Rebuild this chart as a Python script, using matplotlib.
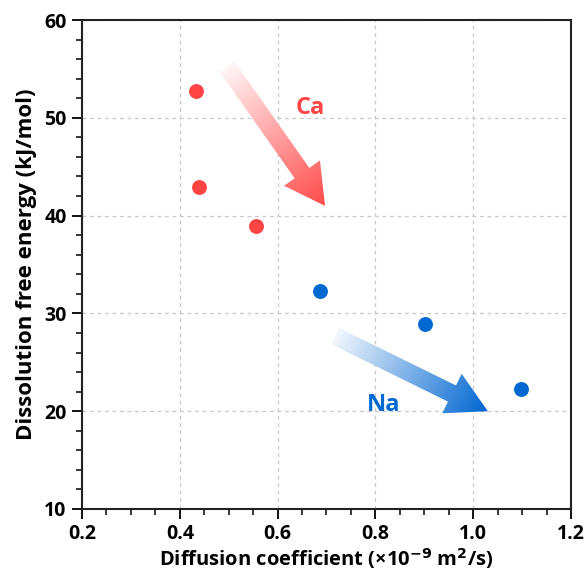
import numpy as np
import matplotlib
matplotlib.use("Agg")
import matplotlib.pyplot as plt
from matplotlib.patches import Polygon
from matplotlib.ticker import MultipleLocator, FormatStrFormatter
from matplotlib.transforms import IdentityTransform

plt.rcParams['font.family'] = ['Open Sans', 'DejaVu Sans']

# data
ca_diffusion = [0.433, 0.439, 0.556]
ca_energy = [52.7, 42.9, 38.9]
na_diffusion = [0.687, 0.901, 1.098]
na_energy = [32.3, 28.9, 22.3]

# trend arrows (start, end) in data units
ca_arrow = [(0.497, 55.2), (0.697, 41.0)]
na_arrow = [(0.717, 27.7), (1.030, 20.0)]

RED = '#ff4444'
BLUE = '#0068d0'

fig = plt.figure(figsize=(5.87, 5.75), dpi=100)
ax = fig.add_axes([0.1397, 0.1148, 0.8330, 0.8504])

ax.scatter(ca_diffusion, ca_energy, s=115, color=RED, zorder=4, linewidths=0)
ax.scatter(na_diffusion, na_energy, s=115, color=BLUE, zorder=4, linewidths=0)

ax.set_xlim(0.2, 1.2)
ax.set_ylim(10, 60)
ax.xaxis.set_major_locator(MultipleLocator(0.2))
ax.xaxis.set_minor_locator(MultipleLocator(0.05))
ax.yaxis.set_major_locator(MultipleLocator(10))
ax.yaxis.set_minor_locator(MultipleLocator(2))
ax.xaxis.set_major_formatter(FormatStrFormatter('%.1f'))
ax.tick_params(which='major', length=7, width=1.3, direction='out', labelsize=14, pad=4)
ax.tick_params(which='minor', length=4, width=1.1, direction='out')
for lab in ax.get_xticklabels() + ax.get_yticklabels():
    lab.set_fontweight('bold')
for s in ax.spines.values():
    s.set_linewidth(1.5)
    s.set_color('#222222')

ax.grid(True, which='major', linestyle=(0, (3, 3)), color='#c8c8c8', linewidth=0.9)
ax.set_axisbelow(True)

ax.set_xlabel('Diffusion coefficient (×10$^{\\mathbf{-9}}$ m$^{\\mathbf{2}}$/s)',
              fontsize=14.5, fontweight='bold', labelpad=1)
ax.set_ylabel('Dissolution free energy (kJ/mol)', fontsize=16, fontweight='bold', labelpad=5)

ax.text(0.667, 51.0, 'Ca', color=RED, fontsize=17, fontweight='bold', ha='center', va='center')
ax.text(0.816, 20.6, 'Na', color=BLUE, fontsize=17, fontweight='bold', ha='center', va='center')


def gradient_arrow(start, end, color, shaft=18, head_w=44, head_l=40):
    trans = ax.transData
    p0 = np.array(trans.transform(start))
    p1 = np.array(trans.transform(end))
    d = p1 - p0
    L = np.hypot(*d)
    u = d / L
    n = np.array([-u[1], u[0]])
    b = p1 - u * head_l
    pts = [p0 + n * shaft / 2, b + n * shaft / 2, b + n * head_w / 2, p1,
           b - n * head_w / 2, b - n * shaft / 2, p0 - n * shaft / 2]
    poly = Polygon(pts, closed=True, transform=IdentityTransform(),
                   facecolor='none', edgecolor='none')
    ax.add_patch(poly)
    pts = np.array(pts)
    xmin, ymin = pts.min(axis=0) - 2
    xmax, ymax = pts.max(axis=0) + 2
    nx, ny = int(xmax - xmin), int(ymax - ymin)
    gx, gy = np.meshgrid(np.linspace(xmin, xmax, nx), np.linspace(ymax, ymin, ny))
    t = ((gx - p0[0]) * u[0] + (gy - p0[1]) * u[1]) / L
    t = np.clip(t, 0, 1)
    rgb = np.array(matplotlib.colors.to_rgb(color))
    img = np.ones((ny, nx, 4))
    w = 0.05 + 0.95 * t
    for k in range(3):
        img[..., k] = 1 - w * (1 - rgb[k])
    inv = trans.inverted()
    (x0, y0), (x1, y1) = inv.transform([(xmin, ymin), (xmax, ymax)])
    im = ax.imshow(img, extent=[x0, x1, y0, y1], aspect='auto', zorder=3,
                   interpolation='bilinear')
    im.set_clip_path(poly)


gradient_arrow(ca_arrow[0], ca_arrow[1], '#ff4a4a')
gradient_arrow(na_arrow[0], na_arrow[1], '#0066d0')
ax.set_xlim(0.2, 1.2)
ax.set_ylim(10, 60)

fig.savefig('out.png', dpi=100)
